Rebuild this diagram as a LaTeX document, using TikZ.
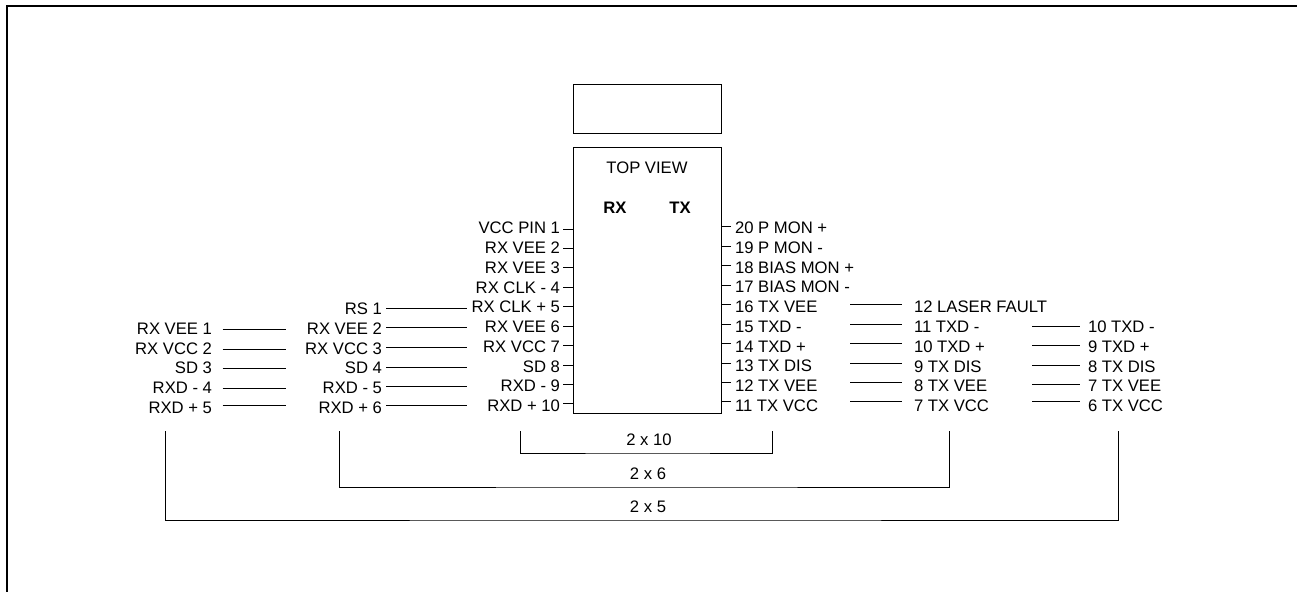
\documentclass[tikz,border=0pt]{standalone}
\usepackage{fontspec}
\setmainfont{Liberation Sans}
\tikzset{
    pinleft/.style = {anchor = east},
    pinright/.style = {anchor = west},
    capt/.style = {anchor = center},
    wire/.style = {line width = 0.75pt},
    package/.style = {draw, line width = 0.75pt, minimum width = 111pt, inner sep = 0pt, outer sep = 0pt}
}
\begin{document}
\begin{tikzpicture}[every node/.style={inner sep = 0pt, outer sep = 0pt, text height = 9pt, text depth = 0pt, font = \fontsize{12.5}{14}\selectfont}, x = 0.75pt, y = -0.75pt]

    \useasboundingbox (0, 0) rectangle (1297, 592);

    % frame
    \draw[line width = 1.5pt] (7, 592) -- (7, 6) -- (1297, 6);

    % package
    \node (lid) at (647, 109.25) [package, minimum height = 37.1pt] {};
    \node (body) at (647, 280.5) [package, minimum height = 198.75pt] {};
    \node (topview) at (647, 167) [capt] {TOP VIEW};
    \node (rxhead) at (615, 207) [capt] {\bfseries RX};
    \node (txhead) at (680, 207) [capt] {\bfseries TX};

    % 2 x 10 pins, left side
    \node (a1) at (560, 227) [pinleft] {VCC PIN 1};
    \node (a2) at (560, 247) [pinleft] {RX VEE 2};
    \node (a3) at (560, 267) [pinleft] {RX VEE 3};
    \node (a4) at (560, 287) [pinleft] {RX CLK - 4};
    \node (a5) at (560, 306) [pinleft] {RX CLK + 5};
    \node (a6) at (560, 326) [pinleft] {RX VEE 6};
    \node (a7) at (560, 346) [pinleft] {RX VCC 7};
    \node (a8) at (560, 366) [pinleft] {SD 8};
    \node (a9) at (560, 385) [pinleft] {RXD - 9};
    \node (a10) at (560, 405) [pinleft] {RXD + 10};

    % 2 x 10 pins, right side
    \node (a20) at (735, 227) [pinright] {20 P MON +};
    \node (a19) at (735, 247) [pinright] {19 P MON -};
    \node (a18) at (735, 267) [pinright] {18 BIAS MON +};
    \node (a17) at (735, 286) [pinright] {17 BIAS MON -};
    \node (a16) at (735, 306) [pinright] {16 TX VEE};
    \node (a15) at (735, 326) [pinright] {15 TXD -};
    \node (a14) at (735, 346) [pinright] {14 TXD +};
    \node (a13) at (735, 365) [pinright] {13 TX DIS};
    \node (a12) at (735, 385) [pinright] {12 TX VEE};
    \node (a11) at (735, 405) [pinright] {11 TX VCC};

    % 2 x 6 pins
    \node (b1) at (382, 308) [pinleft] {RS 1};
    \node (b2) at (382, 328) [pinleft] {RX VEE 2};
    \node (b3) at (382, 348) [pinleft] {RX VCC 3};
    \node (b4) at (382, 367) [pinleft] {SD 4};
    \node (b5) at (382, 387) [pinleft] {RXD - 5};
    \node (b6) at (382, 407) [pinleft] {RXD + 6};
    \node (b12) at (914, 306) [pinright] {12 LASER FAULT};
    \node (b11) at (914, 326) [pinright] {11 TXD -};
    \node (b10) at (914, 346) [pinright] {10 TXD +};
    \node (b9) at (914, 366) [pinright] {9 TX DIS};
    \node (b8) at (914, 385) [pinright] {8 TX VEE};
    \node (b7) at (914, 405) [pinright] {7 TX VCC};

    % 2 x 5 pins
    \node (c1) at (212, 328) [pinleft] {RX VEE 1};
    \node (c2) at (212, 348) [pinleft] {RX VCC 2};
    \node (c3) at (212, 367) [pinleft] {SD 3};
    \node (c4) at (212, 387) [pinleft] {RXD - 4};
    \node (c5) at (212, 407) [pinleft] {RXD + 5};
    \node (c10) at (1088, 326) [pinright] {10 TXD -};
    \node (c9) at (1088, 346) [pinright] {9 TXD +};
    \node (c8) at (1088, 366) [pinright] {8 TX DIS};
    \node (c7) at (1088, 385) [pinright] {7 TX VEE};
    \node (c6) at (1088, 405) [pinright] {6 TX VCC};

    % ticks on the package
    \coordinate (ta1) at (563, 229);
    \coordinate (ta2) at (563, 248);
    \coordinate (ta3) at (563, 267.5);
    \coordinate (ta4) at (563, 287);
    \coordinate (ta5) at (563, 306);
    \coordinate (ta6) at (563, 326);
    \coordinate (ta7) at (563, 345.5);
    \coordinate (ta8) at (563, 365);
    \coordinate (ta9) at (563, 384);
    \coordinate (ta10) at (563, 403.5);
    \coordinate (ta20) at (731, 226);
    \coordinate (ta19) at (731, 246);
    \coordinate (ta18) at (731, 265);
    \coordinate (ta17) at (731, 285);
    \coordinate (ta16) at (731, 304);
    \coordinate (ta15) at (731, 324);
    \coordinate (ta14) at (731, 343);
    \coordinate (ta13) at (731, 363);
    \coordinate (ta12) at (731, 382);
    \coordinate (ta11) at (731, 401.5);

    \draw[wire] (ta1) -- (ta1 -| body.west);
    \draw[wire] (ta2) -- (ta2 -| body.west);
    \draw[wire] (ta3) -- (ta3 -| body.west);
    \draw[wire] (ta4) -- (ta4 -| body.west);
    \draw[wire] (ta5) -- (ta5 -| body.west);
    \draw[wire] (ta6) -- (ta6 -| body.west);
    \draw[wire] (ta7) -- (ta7 -| body.west);
    \draw[wire] (ta8) -- (ta8 -| body.west);
    \draw[wire] (ta9) -- (ta9 -| body.west);
    \draw[wire] (ta10) -- (ta10 -| body.west);
    \draw[wire] (ta20) -- (ta20 -| body.east);
    \draw[wire] (ta19) -- (ta19 -| body.east);
    \draw[wire] (ta18) -- (ta18 -| body.east);
    \draw[wire] (ta17) -- (ta17 -| body.east);
    \draw[wire] (ta16) -- (ta16 -| body.east);
    \draw[wire] (ta15) -- (ta15 -| body.east);
    \draw[wire] (ta14) -- (ta14 -| body.east);
    \draw[wire] (ta13) -- (ta13 -| body.east);
    \draw[wire] (ta12) -- (ta12 -| body.east);
    \draw[wire] (ta11) -- (ta11 -| body.east);

    % columns where the free lines end
    \coordinate (xb) at (467, 0);
    \coordinate (xc) at (286, 0);
    \coordinate (xd) at (902, 0);
    \coordinate (xe) at (1080, 0);

    % free lines, left side
    \coordinate (wb1) at (386, 308.5);
    \coordinate (wb2) at (386, 327.5);
    \coordinate (wb3) at (386, 347);
    \coordinate (wb4) at (386, 367);
    \coordinate (wb5) at (386, 386);
    \coordinate (wb6) at (386, 405.5);
    \coordinate (wc1) at (222.5, 329.5);
    \coordinate (wc2) at (222.5, 349);
    \coordinate (wc3) at (222.5, 368.5);
    \coordinate (wc4) at (222.5, 388);
    \coordinate (wc5) at (222.5, 405.5);

    \draw[wire] (wb1) -- (wb1 -| xb);
    \draw[wire] (wb2) -- (wb2 -| xb);
    \draw[wire] (wb3) -- (wb3 -| xb);
    \draw[wire] (wb4) -- (wb4 -| xb);
    \draw[wire] (wb5) -- (wb5 -| xb);
    \draw[wire] (wb6) -- (wb6 -| xb);
    \draw[wire] (wc1) -- (wc1 -| xc);
    \draw[wire] (wc2) -- (wc2 -| xc);
    \draw[wire] (wc3) -- (wc3 -| xc);
    \draw[wire] (wc4) -- (wc4 -| xc);
    \draw[wire] (wc5) -- (wc5 -| xc);

    % free lines, right side
    \coordinate (wd1) at (850, 304.5);
    \coordinate (wd2) at (850, 324);
    \coordinate (wd3) at (850, 343.5);
    \coordinate (wd4) at (850, 363);
    \coordinate (wd5) at (850, 382.5);
    \coordinate (wd6) at (850, 401.5);
    \coordinate (we1) at (1032, 326);
    \coordinate (we2) at (1032, 345.5);
    \coordinate (we3) at (1032, 365);
    \coordinate (we4) at (1032, 384);
    \coordinate (we5) at (1032, 401.5);

    \draw[wire] (wd1) -- (wd1 -| xd);
    \draw[wire] (wd2) -- (wd2 -| xd);
    \draw[wire] (wd3) -- (wd3 -| xd);
    \draw[wire] (wd4) -- (wd4 -| xd);
    \draw[wire] (wd5) -- (wd5 -| xd);
    \draw[wire] (wd6) -- (wd6 -| xd);
    \draw[wire] (we1) -- (we1 -| xe);
    \draw[wire] (we2) -- (we2 -| xe);
    \draw[wire] (we3) -- (we3 -| xe);
    \draw[wire] (we4) -- (we4 -| xe);
    \draw[wire] (we5) -- (we5 -| xe);

    % brackets
    \coordinate (s10l) at (520, 431);
    \coordinate (s10r) at (772, 431);
    \coordinate (s6l) at (339, 431);
    \coordinate (s6r) at (949, 431);
    \coordinate (s5l) at (165, 431);
    \coordinate (s5r) at (1118.7, 431);

    \draw[wire] (s10l) |- (649, 453) -| (s10r);
    \draw[wire] (s6l) |- (649, 487) -| (s6r);
    \draw[wire] (s5l) |- (649, 520) -| (s5r);

    \node (n10) at (649, 439) [capt] {2 x 10};
    \node (n6) at (648, 473) [capt] {2 x 6};
    \node (n5) at (648, 506) [capt] {2 x 5};
\end{tikzpicture}
\end{document}
